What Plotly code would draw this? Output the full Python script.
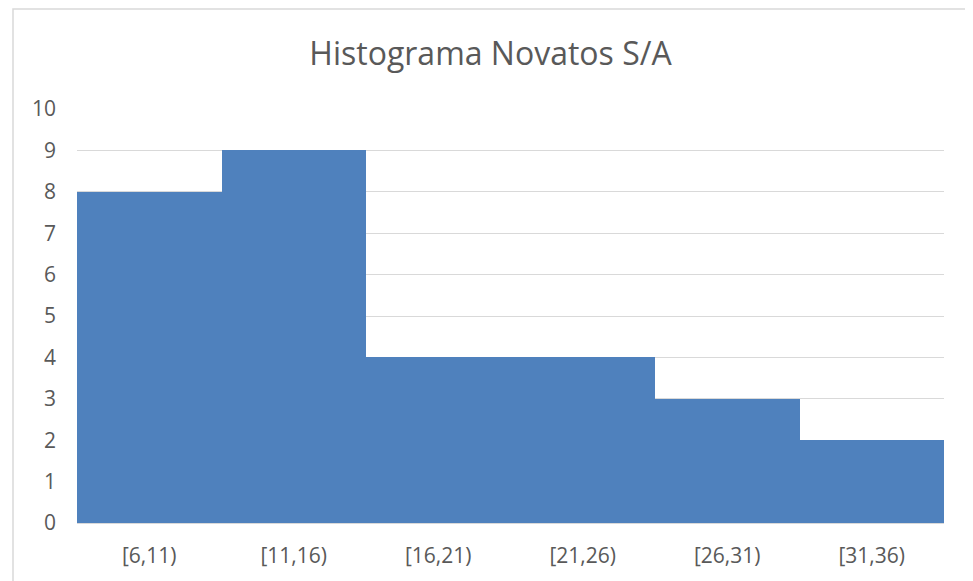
import plotly.graph_objects as go

categories = ["[6,11)", "[11,16)", "[16,21)", "[21,26)", "[26,31)", "[31,36)"]
values = [8, 9, 4, 4, 3, 2]
y_ticks = list(range(0, 11))

OFF = 8  # page body margin
W, H = 973 - OFF, 581 - OFF
L, T = 77 - OFF, 109 - OFF
R = W - (944 - OFF)
B = H - (523 - OFF)
pw, ph = W - L - R, H - T - B

def px_x(x):
    return (x - OFF - L) / pw

def px_y(y):
    return (H - B - (y - OFF)) / ph

fig = go.Figure(go.Bar(x=categories, y=values, marker=dict(color="#4F81BD", line=dict(width=0))))

fig.update_layout(
    width=W, height=H,
    margin=dict(l=L, r=R, t=T, b=B),
    paper_bgcolor="white", plot_bgcolor="white",
    bargap=0,
    showlegend=False,
    title=dict(text="Histograma Novatos S/A", x=0.5, xanchor="center", y=1 - (54 - OFF) / H, yanchor="middle",
               font=dict(family="Open Sans", size=32, color="#595959")),
    font=dict(family="Open Sans", size=21, color="#595959"),
    xaxis=dict(showgrid=False, showline=True, linecolor="#D9D9D9", linewidth=1, ticks="",
               tickfont=dict(size=21, color="#595959"), ticklabelstandoff=14),
    yaxis=dict(range=[0, 10], tickvals=y_ticks, showgrid=True, gridcolor="#D9D9D9", gridwidth=1,
               zeroline=False, showline=False, ticks="", ticklabelstandoff=20,
               tickfont=dict(size=21, color="#595959")),
    shapes=[dict(type="rect", xref="paper", yref="paper",
                 x0=px_x(13), x1=px_x(968), y0=px_y(600), y1=px_y(9),
                 line=dict(color="#D9D9D9", width=1.5), fillcolor="rgba(0,0,0,0)", layer="below")],
)

fig.write_html("out.html")
